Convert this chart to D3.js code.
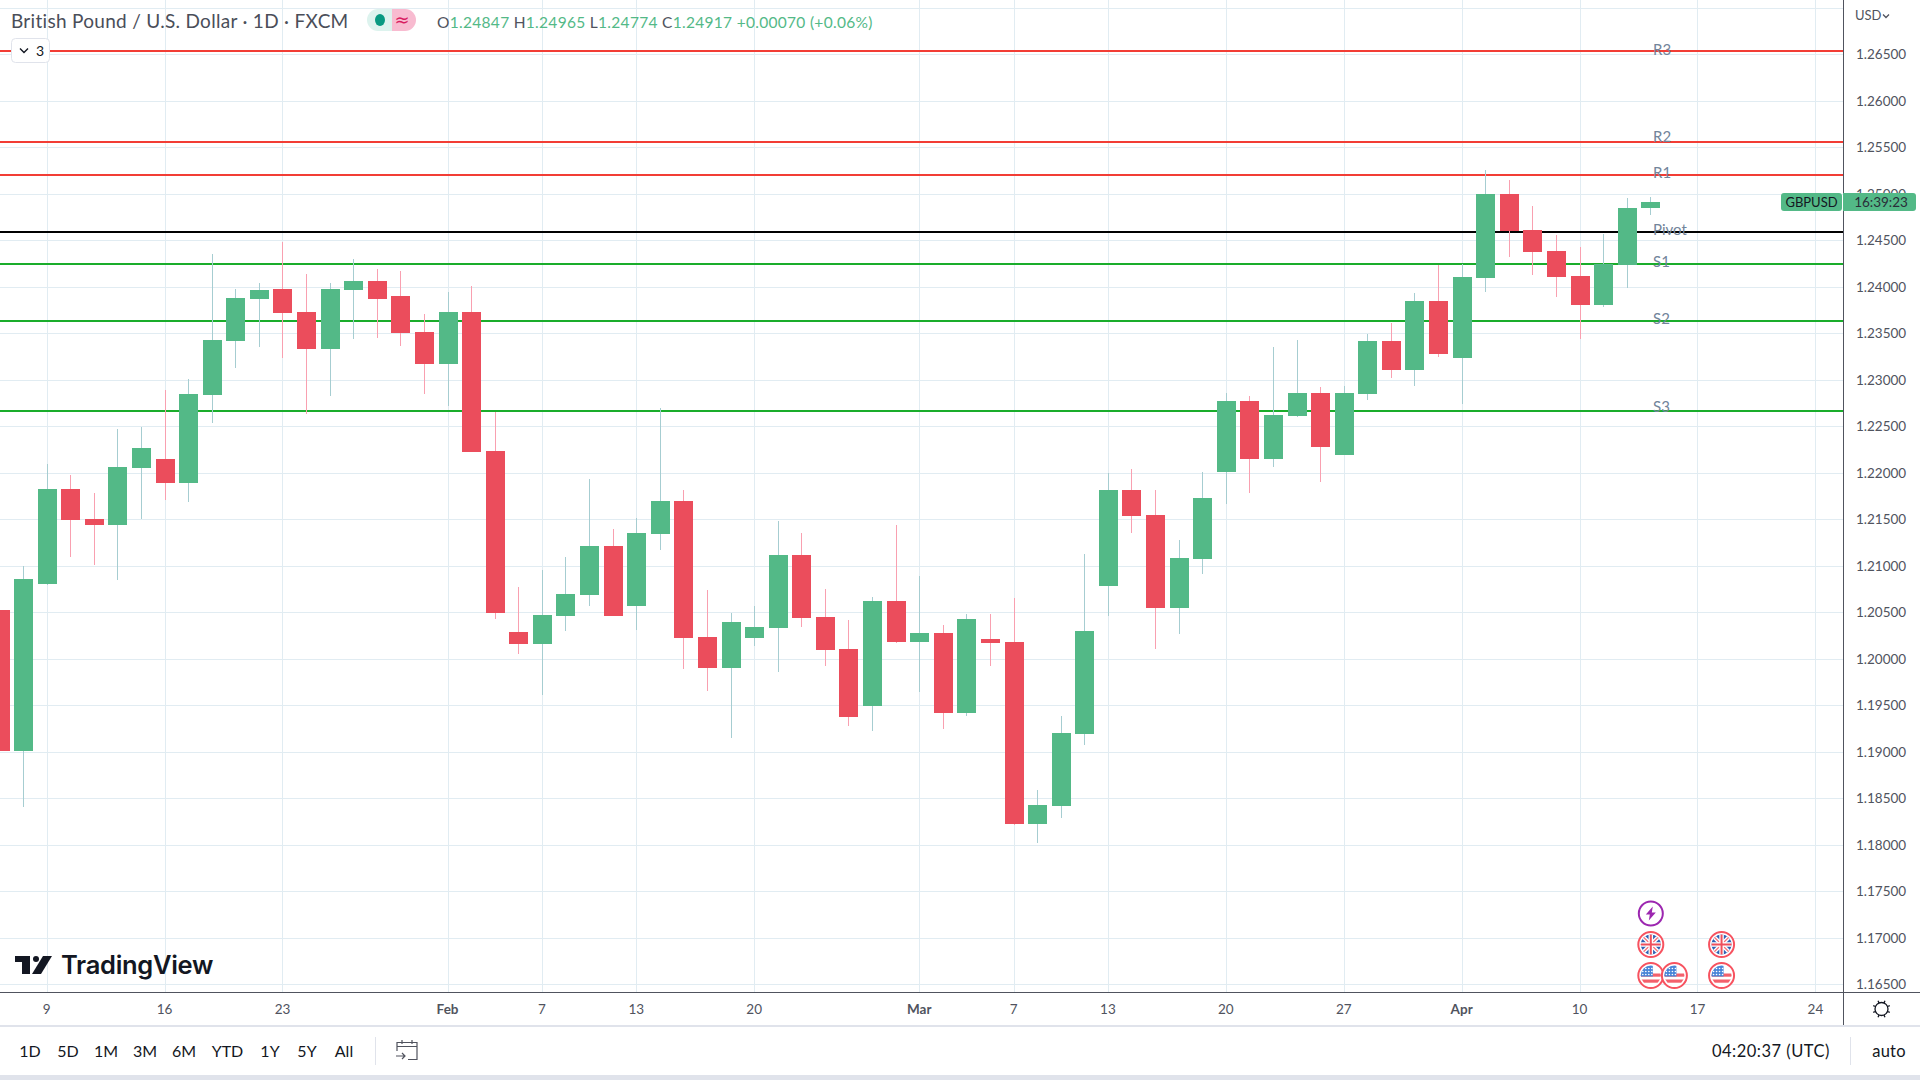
<!DOCTYPE html>
<html>
<head>
    <title>GBPUSD 1D</title>
    <script src="https://cdnjs.cloudflare.com/ajax/libs/d3/7.6.1/d3.min.js"></script>
    <style>
        html, body { margin: 0; padding: 0; background: white; overflow: hidden; }
        svg { display: block; font-family: 'Lato', sans-serif; }
    </style>
</head>
<body>
    <div id="chart"></div>
    <script>
        const opens = [1.20525,1.19009,1.20804,1.21826,1.21503,1.21439,1.22052,1.22148,1.21890,1.22837,1.23417,1.23869,1.23976,1.23729,1.23331,1.23966,1.24062,1.23901,1.23514,1.23170,1.23729,1.22234,1.20288,1.20159,1.20460,1.20686,1.21213,1.20568,1.21342,1.21697,1.20234,1.19901,1.20224,1.20331,1.21116,1.20449,1.20105,1.19492,1.20621,1.20181,1.20277,1.19417,1.20213,1.20181,1.18224,1.18417,1.19191,1.20783,1.21815,1.21546,1.20546,1.21073,1.22009,1.22772,1.22148,1.22611,1.22858,1.22191,1.22847,1.23417,1.23105,1.23847,1.23234,1.24095,1.24998,1.24611,1.24385,1.24116,1.23804,1.24234,1.24847];
        const highs = [1.20525,1.20998,1.22095,1.21976,1.21783,1.22471,1.22492,1.22890,1.23009,1.24353,1.23976,1.24041,1.24482,1.24138,1.24041,1.24299,1.24191,1.24170,1.23708,1.23944,1.24009,1.22654,1.20772,1.20955,1.21095,1.21933,1.21396,1.21514,1.22697,1.21815,1.20740,1.20492,1.20568,1.21482,1.21353,1.20751,1.20417,1.20664,1.21439,1.20890,1.20363,1.20482,1.20482,1.20654,1.18589,1.19385,1.21127,1.21998,1.22041,1.21815,1.21277,1.22009,1.22858,1.22826,1.23353,1.23428,1.22923,1.22933,1.23492,1.23611,1.23933,1.24234,1.24245,1.25256,1.25148,1.24869,1.24557,1.24428,1.24568,1.24955,1.24965];
        const lows = [1.19009,1.18406,1.20793,1.21095,1.21009,1.20847,1.21503,1.21707,1.21686,1.22535,1.23127,1.23353,1.23234,1.22632,1.22826,1.23439,1.23449,1.23363,1.22847,1.22718,1.22224,1.20428,1.20052,1.19611,1.20299,1.20568,1.20460,1.20310,1.21170,1.19890,1.19654,1.19148,1.20138,1.19858,1.20342,1.19923,1.19277,1.19224,1.20170,1.19643,1.19245,1.19385,1.19923,1.18213,1.18019,1.18288,1.19073,1.20460,1.21353,1.20105,1.20267,1.20912,1.21665,1.21783,1.22062,1.22600,1.21901,1.22191,1.22783,1.23019,1.22933,1.23245,1.22740,1.23944,1.24320,1.24127,1.23890,1.23439,1.23783,1.23987,1.24774];
        const closes = [1.19009,1.20858,1.21826,1.21492,1.21439,1.22062,1.22267,1.21890,1.22847,1.23428,1.23880,1.23966,1.23718,1.23331,1.23976,1.24062,1.23869,1.23503,1.23170,1.23729,1.22224,1.20492,1.20159,1.20471,1.20697,1.21213,1.20460,1.21353,1.21697,1.20224,1.19901,1.20396,1.20342,1.21116,1.20439,1.20095,1.19374,1.20621,1.20181,1.20277,1.19417,1.20428,1.20170,1.18224,1.18428,1.19202,1.20299,1.21815,1.21535,1.20546,1.21084,1.21729,1.22772,1.22148,1.22622,1.22858,1.22277,1.22858,1.23417,1.23105,1.23847,1.23277,1.24105,1.24998,1.24600,1.24374,1.24105,1.23804,1.24245,1.24847,1.24917];

        const priceTicks = [1.165,1.17,1.175,1.18,1.185,1.19,1.195,1.2,1.205,1.21,1.215,1.22,1.225,1.23,1.235,1.24,1.245,1.25,1.255,1.26,1.265];
        const timeTickBars = [2,7,12,19,23,27,32,39,43,47,52,57,62,67,72,77];
        const timeTickLabels = ['9','16','23','Feb','7','13','20','Mar','7','13','20','27','Apr','10','17','24'];
        const monthLabels = ['Feb','Mar','Apr'];

        const pivotNames = ['R3','R2','R1','Pivot','S1','S2','S3'];
        const pivotPrices = [1.26535,1.25557,1.25205,1.24592,1.24245,1.23632,1.22665];

        const eventBars = [70,70,70,71,73,73];
        const eventKinds = ['bolt','uk','us','us','uk','us'];
        const eventRows = [0,1,2,2,1,2];

        const rangeButtons = ['1D','5D','1M','3M','6M','YTD','1Y','5Y','All'];
        const legendParts = [['O','1.24847'],['H','1.24965'],['L','1.24774'],['C','1.24917']];

        const width = 1920, height = 1080;
        const paneRight = 1843, paneBottom = 992, axisBottom = 1026, toolbarBottom = 1075;
        const upColor = '#53b987', downColor = '#eb4d5c';
        const upWick = '#a6cdd1', downWick = '#f9a0b0';
        const gridColor = '#e1ecf2', axisLine = '#50535e', textColor = '#50535e';

        const x = d3.scaleLinear().domain([0, 70]).range([0, 1650.81]);
        const y = d3.scaleLinear().domain([1.265, 1.165]).range([54.3, 984.3]);

        const svg = d3.select('#chart').append('svg').attr('width', width).attr('height', height);

        const defs = svg.append('defs');
        defs.append('clipPath').attr('id', 'pane').append('rect').attr('width', paneRight).attr('height', paneBottom);

        const pane = svg.append('g').attr('clip-path', 'url(#pane)');

        // grid
        pane.append('g').selectAll('line').data(priceTicks.concat([1.27])).enter().append('line')
            .attr('x1', 0).attr('x2', paneRight)
            .attr('y1', d => Math.round(y(d)) + 0.5).attr('y2', d => Math.round(y(d)) + 0.5)
            .attr('stroke', gridColor);
        pane.append('g').selectAll('line').data(timeTickBars).enter().append('line')
            .attr('y1', 0).attr('y2', paneBottom)
            .attr('x1', d => Math.floor(x(d)) + 0.5).attr('x2', d => Math.floor(x(d)) + 0.5)
            .attr('stroke', gridColor);

        // pivot lines
        pane.append('g').selectAll('line').data(pivotNames).enter().append('line')
            .attr('x1', 0).attr('x2', paneRight)
            .attr('y1', (d, i) => Math.round(y(pivotPrices[i]))).attr('y2', (d, i) => Math.round(y(pivotPrices[i])))
            .attr('stroke', d => d === 'Pivot' ? '#000000' : d[0] === 'R' ? '#f23d35' : '#1aad2b')
            .attr('stroke-width', 2);

        // candles
        const candles = pane.append('g').attr('shape-rendering', 'crispEdges')
            .selectAll('g').data(opens).enter().append('g');

        candles.append('rect')
            .attr('x', (d, i) => Math.floor(x(i)))
            .attr('width', 1)
            .attr('y', (d, i) => y(highs[i]))
            .attr('height', (d, i) => y(lows[i]) - y(highs[i]))
            .attr('fill', (d, i) => closes[i] >= d ? upWick : downWick);

        candles.append('rect')
            .attr('x', (d, i) => Math.floor(x(i)) - 9)
            .attr('width', 19)
            .attr('y', (d, i) => y(Math.max(d, closes[i])))
            .attr('height', (d, i) => Math.max(1, Math.abs(y(d) - y(closes[i]))))
            .attr('fill', (d, i) => closes[i] >= d ? upColor : downColor);

        // pivot labels
        const labelNudge = [-0.5, 3.5, 0.5, 0.5, 0.5, 0.5, 2.5];
        pane.append('g').selectAll('text').data(pivotNames).enter().append('text')
            .attr('x', 1653)
            .attr('y', (d, i) => y(pivotPrices[i]) - labelNudge[i])
            .attr('dominant-baseline', 'middle')
            .attr('font-size', 15)
            .attr('fill', '#72849a')
            .text(d => d);

        // event icons
        const rowY = [913.5, 944.5, 975.5];
        const icons = pane.append('g').selectAll('g').data(eventKinds).enter().append('g')
            .attr('transform', (d, i) => `translate(${x(eventBars[i])},${rowY[eventRows[i]]})`);

        icons.each(function (kind, i) {
            const g = d3.select(this);
            if (kind === 'bolt') {
                g.append('circle').attr('r', 12).attr('fill', 'white').attr('stroke', '#9c27b0').attr('stroke-width', 2);
                g.append('path').attr('d', 'M2,-7 L-5,1 L-1,1 L-2,7 L5,-1 L1,-1 Z').attr('fill', '#9c27b0');
                return;
            }
            const id = 'flag' + i;
            defs.append('clipPath').attr('id', id).append('circle').attr('r', 10);
            g.append('circle').attr('r', 12.5).attr('fill', 'white').attr('stroke', '#f7525f').attr('stroke-width', 2);
            const f = g.append('g').attr('clip-path', `url(#${id})`);
            if (kind === 'uk') {
                f.append('rect').attr('x', -11).attr('y', -11).attr('width', 22).attr('height', 22).attr('fill', '#2f62b5');
                f.append('path').attr('d', 'M-10,-10 L10,10 M10,-10 L-10,10').attr('stroke', 'white').attr('stroke-width', 4);
                f.append('path').attr('d', 'M-10,-10 L10,10 M10,-10 L-10,10').attr('stroke', '#f5707a').attr('stroke-width', 1.2);
                f.append('path').attr('d', 'M0,-11 V11 M-11,0 H11').attr('stroke', 'white').attr('stroke-width', 4.5);
                f.append('path').attr('d', 'M0,-11 V11 M-11,0 H11').attr('stroke', '#ef4f5c').attr('stroke-width', 2);
            } else {
                f.append('rect').attr('x', -11).attr('y', -11).attr('width', 22).attr('height', 22).attr('fill', 'white');
                f.selectAll('rect.stripe').data(['a', 'b', 'c']).enter().append('rect')
                    .attr('class', 'stripe')
                    .attr('x', -11).attr('width', 22).attr('height', 3.2)
                    .attr('y', (d, k) => -2 + k * 6)
                    .attr('fill', '#f4606c');
                f.append('rect').attr('x', -11).attr('y', -11).attr('width', 13).attr('height', 12).attr('fill', '#4a86d8');
                f.selectAll('circle.star').data(d3.range(12)).enter().append('circle')
                    .attr('class', 'star')
                    .attr('cx', d => -8 + (d % 4) * 3)
                    .attr('cy', d => -7 + Math.floor(d / 4) * 3)
                    .attr('r', 0.8).attr('fill', 'white');
            }
        });

        // TradingView logo
        const logo = svg.append('g').attr('fill', '#131722');
        logo.append('path').attr('d', 'M15,956 H30 V974 H22 V962 H15 Z');
        logo.append('circle').attr('cx', 36).attr('cy', 959).attr('r', 3);
        logo.append('path').attr('d', 'M43,956 H52 L41,974 H32 Z');
        logo.append('text').attr('x', 61).attr('y', 974)
            .attr('font-family', 'Inter').attr('font-weight', 600).attr('font-size', 25.5).attr('letter-spacing', -0.3)
            .text('TradingView');

        // price axis
        svg.append('rect').attr('x', paneRight).attr('width', width - paneRight).attr('height', axisBottom).attr('fill', 'white');
        const priceAxis = d3.axisRight(y).tickValues(priceTicks).tickSize(0).tickPadding(13).tickFormat(d => d.toFixed(5));
        const priceG = svg.append('g').attr('transform', `translate(${paneRight},0)`).call(priceAxis);
        priceG.select('.domain').remove();
        priceG.selectAll('text').attr('font-family', 'Lato').attr('font-size', 13.5).attr('fill', textColor);

        // time axis
        svg.append('rect').attr('y', paneBottom).attr('width', width).attr('height', axisBottom - paneBottom).attr('fill', 'white');
        const timeAxis = d3.axisBottom(x).tickValues(timeTickBars).tickSize(0).tickPadding(12)
            .tickFormat((d, i) => timeTickLabels[i]);
        const timeG = svg.append('g').attr('transform', `translate(-1,${paneBottom})`).call(timeAxis);
        timeG.select('.domain').remove();
        timeG.selectAll('text')
            .attr('font-family', 'Lato').attr('font-size', 13.5).attr('fill', textColor)
            .attr('font-weight', (d, i) => monthLabels.includes(timeTickLabels[i]) ? 700 : 400);

        svg.append('path').attr('d', `M0,${paneBottom + 0.5} H${width} M${paneRight + 0.5},0 V${axisBottom}`)
            .attr('stroke', axisLine).attr('fill', 'none');
        svg.append('rect').attr('y', axisBottom - 1).attr('width', width).attr('height', 2).attr('fill', '#e0e3eb');
        svg.append('rect').attr('y', toolbarBottom).attr('width', width).attr('height', height - toolbarBottom).attr('fill', '#e0e3eb');

        // USD unit
        svg.append('text').attr('x', 1855).attr('y', 20).attr('font-size', 13).attr('fill', textColor).text('USD');
        svg.append('path').attr('d', 'M1883,14.5 l3,3 l3,-3').attr('fill', 'none').attr('stroke', textColor).attr('stroke-width', 1.3);

        // last price tags
        svg.append('rect').attr('x', 1781).attr('y', 193).attr('width', 61).attr('height', 18).attr('rx', 3).attr('fill', upColor);
        svg.append('rect').attr('x', 1843).attr('y', 193).attr('width', 73).attr('height', 18).attr('rx', 3).attr('fill', upColor);
        svg.append('rect').attr('x', 1843).attr('y', 193).attr('width', 5).attr('height', 18).attr('fill', upColor);
        svg.append('text').attr('x', 1811.5).attr('y', 206.5).attr('text-anchor', 'middle').attr('font-size', 13).attr('fill', '#131722').text('GBPUSD');
        svg.append('text').attr('x', 1881).attr('y', 206.5).attr('text-anchor', 'middle').attr('font-size', 13.5).attr('fill', '#2a2e39').text('16:39:23');

        // legend
        svg.append('text').attr('x', 11).attr('y', 28).attr('font-size', 19).attr('letter-spacing', 0.3).attr('fill', '#4a4e59')
            .text('British Pound / U.S. Dollar · 1D · FXCM');

        const pill = svg.append('g');
        pill.append('path').attr('d', 'M392,9 H378 a11,11 0 0 0 0,22 H392 Z').attr('fill', '#ddf3ee');
        pill.append('path').attr('d', 'M392,9 H405 a11,11 0 0 1 0,22 H392 Z').attr('fill', '#f8bbd0');
        pill.append('ellipse').attr('cx', 380).attr('cy', 20).attr('rx', 5).attr('ry', 6).attr('fill', '#089981');
        pill.append('text').attr('x', 402).attr('y', 26).attr('text-anchor', 'middle').attr('font-size', 18).attr('font-family', 'DejaVu Sans').attr('fill', '#d81b60').text('≈');

        const legendText = svg.append('text').attr('x', 437).attr('y', 27.5).attr('font-size', 15.5).attr('letter-spacing', 0.3).attr('fill', upColor);
        legendParts.forEach(p => {
            legendText.append('tspan').attr('fill', '#50535e').text(p[0]);
            legendText.append('tspan').text(p[1] + ' ');
        });
        legendText.append('tspan').text('+0.00070 (+0.06%)');

        const collapse = svg.append('g');
        collapse.append('rect').attr('x', 11.5).attr('y', 38.5).attr('width', 38).attr('height', 24).attr('rx', 4)
            .attr('fill', 'white').attr('stroke', '#e0e3eb');
        collapse.append('path').attr('d', 'M20,48.5 l4,4 l4,-4').attr('fill', 'none').attr('stroke', '#131722').attr('stroke-width', 1.4);
        collapse.append('text').attr('x', 36).attr('y', 56).attr('font-size', 14).attr('fill', '#131722').text('3');

        // bottom toolbar
        const buttonCenters = [30, 68, 106, 145, 184, 227.5, 270, 307, 344];
        svg.append('g').selectAll('text').data(rangeButtons).enter().append('text')
            .attr('x', (d, i) => buttonCenters[i]).attr('y', 1056.5)
            .attr('text-anchor', 'middle').attr('font-size', 16).attr('fill', '#131722')
            .text(d => d);

        svg.append('path').attr('d', 'M375.5,1037 V1065 M1850.5,1037 V1065').attr('stroke', '#e0e3eb');
        svg.append('path')
            .attr('d', 'M397,1051 V1042.5 H417 V1059.5 H408 M397,1046.5 H417 M402,1040 V1044 M412,1040 V1044 M396,1056 H405 M402,1053 L405,1056 L402,1059')
            .attr('fill', 'none').attr('stroke', '#50535e').attr('stroke-width', 1.2);

        svg.append('text').attr('x', 1830).attr('y', 1056.5).attr('text-anchor', 'end').attr('font-size', 16.5).attr('letter-spacing', 0.5).attr('fill', '#131722').text('04:20:37 (UTC)');
        svg.append('text').attr('x', 1889).attr('y', 1056.5).attr('text-anchor', 'middle').attr('font-size', 16.5).attr('letter-spacing', 0.2).attr('fill', '#131722').text('auto');

        // settings icon
        const gear = svg.append('g').attr('transform', 'translate(1881.5,1009)').attr('fill', 'none').attr('stroke', '#131722').attr('stroke-width', 1.3);
        gear.append('circle').attr('r', 6.5);
        gear.selectAll('line').data(d3.range(8)).enter().append('line')
            .attr('x1', 0).attr('x2', 0).attr('y1', -6.5).attr('y2', -9)
            .attr('transform', d => `rotate(${d * 45 + 22.5})`);
    </script>
</body>
</html>
